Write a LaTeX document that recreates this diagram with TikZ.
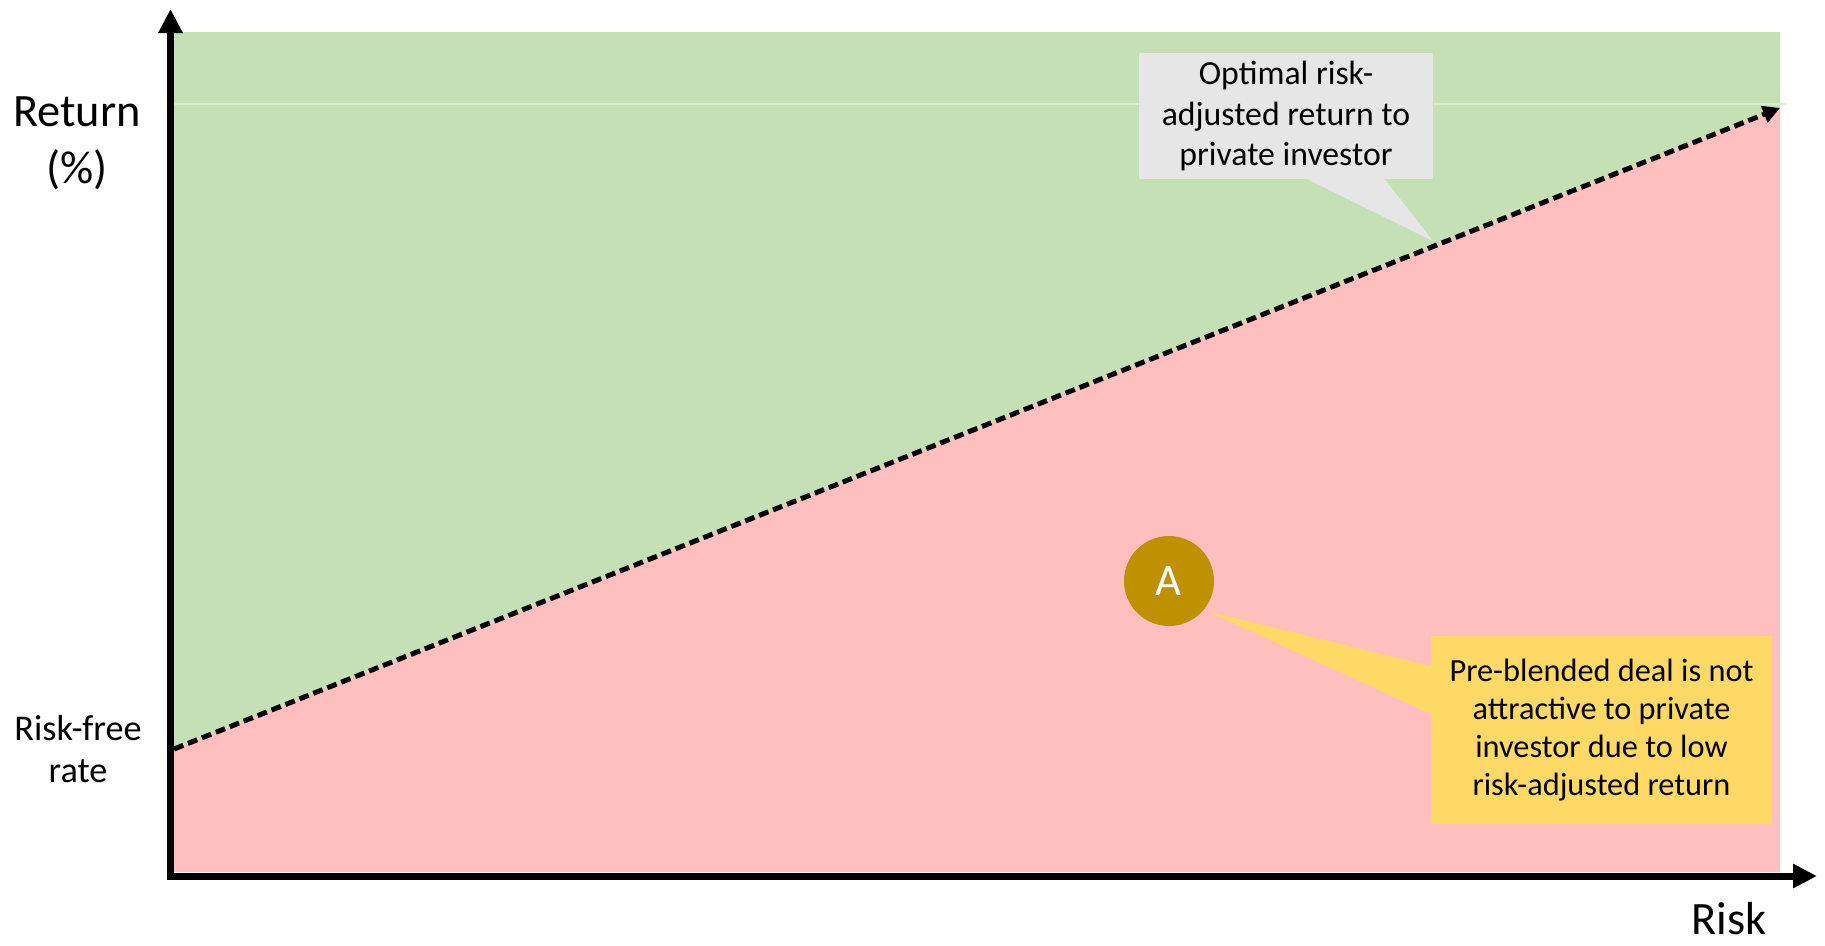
\documentclass[tikz,border=0pt]{standalone}
\usepackage{fontspec}
\setmainfont{Carlito}
\usepackage{xcolor}
\usepackage{tikz}
\usetikzlibrary{arrows.meta,calc}

\definecolor{safegreen}{HTML}{C5E0B4}
\definecolor{riskpink}{HTML}{FFBFBF}
\definecolor{notegrey}{HTML}{E7E6E6}
\definecolor{noteyellow}{HTML}{FFD966}
\definecolor{dealgold}{HTML}{BF9000}

\tikzstyle{axisline}=[
    line width=0.7mm,
    line join=miter,
    {Triangle[length=2.4mm,width=2.3mm]}-{Triangle[length=2.4mm,width=2.3mm]}]
\tikzstyle{riskline}=[
    line width=0.5mm,
    dash pattern=on 1mm off 0.5mm,
    -{Triangle[length=1.7mm,width=1.7mm]}]
\tikzstyle{axislabel}=[
    align=center,
    inner sep=0pt,
    font=\fontsize{13.2pt}{16.2pt}\selectfont]
\tikzstyle{smalllabel}=[
    align=center,
    inner sep=0pt,
    font=\fontsize{10.3pt}{12pt}\selectfont]
\tikzstyle{note}=[
    rectangle,
    inner sep=0pt,
    align=center,
    text=black]
\tikzstyle{greynote}=[note,
    fill=notegrey,
    minimum width=29.4mm,
    minimum height=12.6mm,
    font=\fontsize{9.6pt}{11.4pt}\selectfont]
\tikzstyle{yellownote}=[note,
    fill=noteyellow,
    minimum width=34.1mm,
    minimum height=18.8mm,
    font=\fontsize{9.2pt}{10.9pt}\selectfont]
\tikzstyle{dealdot}=[
    circle,
    fill=dealgold,
    text=white,
    minimum size=9mm,
    inner sep=0pt,
    font=\fontsize{12.8pt}{14pt}\selectfont]

\begin{document}
\begin{tikzpicture}[x=0.1mm,y=-0.1mm]
    \useasboundingbox (0,0) rectangle (1825,945);

    \coordinate (O) at (170.5,876);
    \coordinate (ytop) at (170.5,9);
    \coordinate (xend) at (1817,876);
    \coordinate (rf) at (174,749);
    \coordinate (opt) at (1780,108);

    % regions above and below the line
    \fill[safegreen] (174,32) rectangle (1780,872);
    \draw[safegreen!60!white, line width=0.2mm] (174,104) -- (1786,104);
    \fill[riskpink] (rf) -- (opt) -- (1780,872) -- (174,872) -- cycle;

    \draw[riskline] (rf) -- (opt);

    % callout on the line
    \node[greynote] (optnote) at (1286,116)
        {Optimal risk-\\adjusted return to\\private investor};
    \coordinate (opttip) at (1433,241);
    \fill[notegrey] ($(optnote.south west)+(168,-1)$) -- (opttip)
        -- ($(optnote.south west)+(246,-1)$) -- cycle;

    % deal A and its callout
    \node[yellownote] (dealnote) at (1601.5,730)
        {Pre-blended deal is not\\attractive to private\\investor due to low\\risk-adjusted return};
    \coordinate (dealtip) at (1207,611);
    \fill[noteyellow] ($(dealnote.north west)+(1,31)$) -- (dealtip)
        -- ($(dealnote.north west)+(1,79)$) -- cycle;
    \node[dealdot] (dealA) at (1169,581) {A};

    % axes
    \draw[axisline] (ytop) -- (O) -- (xend);

    \node[axislabel] (ylabel) at (77,143) {Return\\(\%)};
    \node[smalllabel] (rflabel) at (78,749) {Risk-free\\rate};
    \node[axislabel, anchor=base] (xlabel) at (1729,934) {Risk};
\end{tikzpicture}
\end{document}
